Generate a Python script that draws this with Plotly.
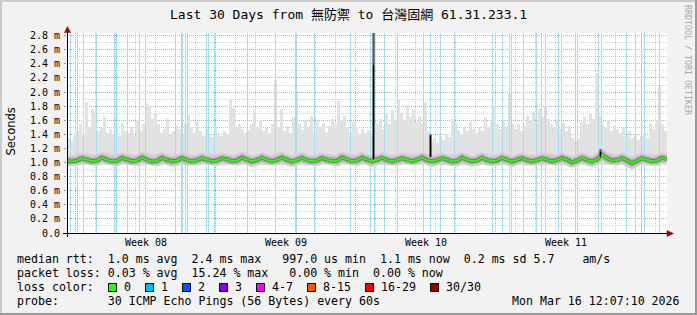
import numpy as np
import plotly.graph_objects as go

# ---------------- data ----------------
title_text = "Last 30 Days from 無防禦 to 台灣固網 61.31.233.1"
week_labels = ["Week 08", "Week 09", "Week 10", "Week 11"]
week_center_day = [3.935, 10.935, 17.935, 24.935]
week_grid_day = [0.435, 7.435, 14.435, 21.435, 28.435]
y_tick_vals = [0.0, 0.2, 0.4, 0.6, 0.8, 1.0, 1.2, 1.4, 1.6, 1.8, 2.0, 2.2, 2.4, 2.6, 2.8]
y_tick_text = ["0.0", "0.2 m", "0.4 m", "0.6 m", "0.8 m", "1.0 m", "1.2 m", "1.4 m",
               "1.6 m", "1.8 m", "2.0 m", "2.2 m", "2.4 m", "2.6 m", "2.8 m"]

# median rtt (ms), one value every 6 hours (0.25 day) over 30 days
median_step = 0.25
median_rtt = [
    1.020, 1.015, 1.030, 1.060,
    1.040, 1.020, 1.030, 1.068,
    1.040, 1.018, 1.025, 1.065,
    1.042, 1.020, 1.028, 1.070,
    1.040, 1.015, 1.022, 1.066,
    1.038, 1.020, 1.030, 1.064,
    1.035, 1.018, 1.032, 1.062,
    1.040, 1.020, 1.028, 1.060,
    1.045, 1.022, 1.030, 1.070,
    1.040, 1.018, 1.035, 1.066,
    1.040, 1.020, 1.040, 1.068,
    1.040, 1.015, 1.035, 1.065,
    1.035, 1.018, 1.030, 1.062,
    1.040, 1.020, 1.025, 1.070,
    1.045, 1.022, 1.030, 1.068,
    1.040, 1.020, 1.040, 1.066,
    1.038, 1.018, 1.035, 1.060,
    1.040, 1.020, 1.040, 1.070,
    1.035, 1.018, 1.035, 1.060,
    1.040, 1.015, 1.025, 1.068,
    1.040, 1.020, 1.030, 1.066,
    1.035, 1.018, 1.030, 1.065,
    1.040, 1.015, 1.040, 1.062,
    1.035, 1.018, 1.035, 1.060,
    1.040, 1.020, 1.035, 1.065,
    1.040, 1.005, 1.030, 1.062,
    1.035, 1.015, 1.045, 1.110,
    1.060, 1.030, 1.035, 1.062,
    1.030, 0.990, 1.025, 1.060,
    1.040, 1.020, 1.030, 1.065,
    1.050,
]

# smoke: slowest ping per 3.6 h step (ms)
smoke_step = 0.15
smoke_floor = 0.97
smoke_max = [
    1.35, 1.30, 1.42, 1.45, 1.55, 1.40, 1.86, 1.50, 1.76, 1.72,
    1.45, 1.50, 1.64, 1.42, 1.48, 1.40, 1.52, 1.38, 1.56, 1.45,
    1.42, 1.50, 1.38, 1.60, 1.45, 1.55, 1.84, 1.80, 1.62, 1.70,
    1.55, 1.42, 1.48, 1.62, 1.40, 1.45, 1.52, 1.48, 1.40, 1.55,
    1.68, 1.50, 1.42, 1.58, 1.45, 1.38, 1.47, 1.40, 1.36, 1.52,
    1.42, 1.38, 1.45, 1.40, 1.90, 1.78, 1.50, 1.55, 1.48, 1.42,
    1.46, 1.55, 1.75, 1.50, 1.60, 1.45, 1.50, 1.42, 1.55, 2.17,
    1.50, 1.76, 1.45, 1.52, 1.42, 1.65, 1.98, 1.55, 1.46, 1.60,
    1.50, 1.66, 1.45, 1.60, 1.50, 1.56, 1.44, 1.52, 1.62, 1.55,
    1.88, 1.60, 1.66, 1.50, 1.44, 1.58, 1.50, 1.40, 1.48, 1.42,
    1.46, 1.38, 1.50, 1.55, 1.62, 1.48, 1.70, 1.55, 1.75, 1.60,
    1.89, 1.70, 1.60, 1.82, 1.65, 1.74, 1.58, 1.66, 1.55, 1.86,
    1.45, 1.30, 1.35, 1.28, 1.38, 1.32, 1.40, 1.36, 1.62, 1.55,
    1.46, 1.40, 1.52, 1.45, 1.58, 1.48, 1.42, 1.50, 1.45, 1.64,
    1.50, 1.58, 1.80, 1.55, 1.48, 1.60, 1.52, 1.98, 1.56, 1.48,
    1.55, 1.45, 1.52, 1.66, 1.60, 1.72, 1.55, 1.76, 1.65, 1.80,
    1.62, 1.55, 1.50, 1.62, 1.48, 1.56, 1.45, 1.52, 1.35, 1.30,
    1.33, 1.58, 1.65, 1.55, 1.70, 1.62, 2.27, 1.66, 1.55, 1.50,
    1.60, 1.45, 1.52, 1.48, 1.42, 1.50, 1.38, 1.45, 1.35, 1.40,
    1.32, 1.38, 1.42, 1.35, 1.55, 1.48, 1.60, 2.10, 1.55, 1.45,
]

# loss events (day offset from graph start)
loss1_day = [0.175, 0.525, 0.825, 1.475, 2.375, 2.475, 3.025, 3.625, 3.925, 5.425,
             5.725, 5.775, 5.925, 6.025, 6.975, 7.075, 7.375, 9.025, 10.425, 11.425,
             11.475, 12.375, 14.175, 15.175, 15.375, 15.875, 16.525, 17.825, 18.175,
             18.675, 19.375, 21.275, 21.775, 22.125, 22.225, 22.825, 23.475, 23.725,
             23.925, 24.575, 24.725, 25.425, 25.525, 26.575, 26.725, 27.975, 28.425,
             28.875, 29.625]
loss4_day = [28.725]

# latency spikes
spike_day = [15.325, 18.175, 26.675]
spike_base = [1.05, 1.08, 1.08]
spike_max = [2.84, 1.40, 1.19]
spike_med = [2.38, 1.38, 1.15]

legend_line1 = "median rtt:  1.0 ms avg  2.4 ms max   997.0 us min  1.1 ms now  0.2 ms sd 5.7    am/s"
legend_line2 = "packet loss: 0.03 % avg  15.24 % max   0.00 % min  0.00 % now"
legend_line3 = "loss color:"
legend_line4 = "probe:       30 ICMP Echo Pings (56 Bytes) every 60s"
timestamp_text = "Mon Mar 16 12:07:10 2026"
loss_labels = ["0", "1", "2", "3", "4-7", "8-15", "16-29", "30/30"]
loss_colors = ["#26ff00", "#00b8ff", "#0059ff", "#7e00ff", "#ff00ff", "#ff5500", "#ff0000", "#a10000"]

# ---------------- layout helpers ----------------
W, H = 697, 315
L, R, T, B = 67, 30, 33, 82
PW, PH = W - L - R, H - T - B
YMAX = 2.838
MONO = "DejaVu Sans Mono, Noto Sans CJK TC, monospace"


def px(x):
    return (x - L) / PW


def py(y):
    return (T + PH - y) / PH


def nb(s):
    return s.replace(" ", "\u00a0")


fig = go.Figure()

# smoke
smoke_t = np.arange(len(smoke_max)) * smoke_step + smoke_step / 2
fig.add_trace(go.Bar(x=smoke_t, y=[v - smoke_floor for v in smoke_max], base=smoke_floor,
                     width=smoke_step, marker=dict(color="#e2e2e2", line=dict(width=0)),
                     hoverinfo="skip"))

# loss bars
def vlines(days, top):
    xs, ys = [], []
    for d in days:
        xs += [d, d, None]
        ys += [0, top, None]
    return xs, ys

lx, ly = vlines(loss1_day, YMAX)
fig.add_trace(go.Scatter(x=lx, y=ly, mode="lines", line=dict(color="#a3ddf5", width=1),
                         hoverinfo="skip"))
lx, ly = vlines(loss4_day, YMAX)
fig.add_trace(go.Scatter(x=lx, y=ly, mode="lines", line=dict(color="#eeaaee", width=1),
                         hoverinfo="skip"))

# smoke density around the median
median_t = np.arange(len(median_rtt)) * median_step
for w, c in [(11, "#d2d2d2"), (7, "#b0b0b0"), (3.6, "#6e6e6e")]:
    fig.add_trace(go.Scatter(x=median_t, y=median_rtt, mode="lines",
                             line=dict(color=c, width=w), hoverinfo="skip"))

# spikes
sx, sy = [], []
for d, b0, m in zip(spike_day, spike_base, spike_max):
    sx += [d, d, None]
    sy += [b0, m, None]
fig.add_trace(go.Scatter(x=sx, y=sy, mode="lines", line=dict(color="#555555", width=2.2),
                         hoverinfo="skip"))

# median line
fig.add_trace(go.Scatter(x=median_t, y=median_rtt, mode="lines",
                         line=dict(color="#26ff00", width=2), hoverinfo="skip"))

sx, sy = [], []
for d, b0, m in zip(spike_day, spike_base, spike_med):
    sx += [d, d, None]
    sy += [b0, m, None]
fig.add_trace(go.Scatter(x=sx, y=sy, mode="lines", line=dict(color="#000000", width=1.3),
                         hoverinfo="skip"))

shapes = []
# outer 3D border
shapes.append(dict(type="rect", xref="paper", yref="paper", x0=px(0), x1=px(W), y0=py(0), y1=py(2),
                   fillcolor="#cbcbcb", line=dict(width=0), layer="above"))
shapes.append(dict(type="rect", xref="paper", yref="paper", x0=px(0), x1=px(2), y0=py(0), y1=py(H),
                   fillcolor="#cbcbcb", line=dict(width=0), layer="above"))
shapes.append(dict(type="rect", xref="paper", yref="paper", x0=px(0), x1=px(W), y0=py(H - 2), y1=py(H),
                   fillcolor="#999999", line=dict(width=0), layer="above"))
shapes.append(dict(type="rect", xref="paper", yref="paper", x0=px(W - 2), x1=px(W), y0=py(0), y1=py(H),
                   fillcolor="#999999", line=dict(width=0), layer="above"))
# axes
shapes.append(dict(type="line", xref="paper", yref="paper", x0=px(63), x1=px(668), y0=py(233.5), y1=py(233.5),
                   line=dict(color="#000000", width=1), layer="above"))
shapes.append(dict(type="line", xref="paper", yref="paper", x0=px(67.5), x1=px(67.5), y0=py(31), y1=py(237),
                   line=dict(color="#000000", width=1), layer="above"))
# arrows
shapes.append(dict(type="path", xref="paper", yref="paper",
                   path=f"M {px(667)},{py(230.5)} L {px(673.5)},{py(233.5)} L {px(667)},{py(236.5)} Z",
                   fillcolor="#a00000", line=dict(color="#a00000", width=0.5), layer="above"))
shapes.append(dict(type="path", xref="paper", yref="paper",
                   path=f"M {px(64.5)},{py(32.5)} L {px(67.5)},{py(26.5)} L {px(70.5)},{py(32.5)} Z",
                   fillcolor="#a00000", line=dict(color="#a00000", width=0.5), layer="above"))

# loss colour boxes
box_x = [108.5, 145.5, 182.5, 219.5, 256.5, 307.5, 365.5, 430.5]
for bx, c in zip(box_x, loss_colors):
    shapes.append(dict(type="rect", xref="paper", yref="paper", x0=px(bx), x1=px(bx + 8),
                       y0=py(283.5), y1=py(291.5), fillcolor=c, line=dict(color="#000000", width=1),
                       layer="above"))

ann = []
ann.append(dict(text=title_text, x=px(348), y=py(15), xref="paper", yref="paper",
                xanchor="center", yanchor="middle", showarrow=False,
                font=dict(family=MONO, size=13, color="#000000")))
ann.append(dict(text="Seconds", x=px(10.5), y=py(132), xref="paper", yref="paper",
                xanchor="center", yanchor="middle", showarrow=False, textangle=-90,
                font=dict(family="DejaVu Sans", size=11.5, color="#000000")))
ann.append(dict(text=nb("RRDTOOL / TOBI OETIKER"), x=px(688), y=py(60), xref="paper", yref="paper",
                xanchor="center", yanchor="middle", showarrow=False, textangle=90,
                font=dict(family=MONO, size=8.3, color="#a8a8a8")))
for lab, d in zip(week_labels, week_center_day):
    ann.append(dict(text=nb(lab), x=d, y=py(242.5), xref="x", yref="paper",
                    xanchor="center", yanchor="middle", showarrow=False,
                    font=dict(family=MONO, size=10, color="#000000")))
for txt, yy in [(legend_line1, 259.3), (legend_line2, 273.3), (legend_line3, 287.3), (legend_line4, 301)]:
    ann.append(dict(text=nb(txt), x=px(15.5), y=py(yy), xref="paper", yref="paper",
                    xanchor="left", yanchor="middle", showarrow=False, borderpad=0,
                    font=dict(family=MONO, size=11.6, color="#000000")))
for bx, lab in zip(box_x, loss_labels):
    ann.append(dict(text=nb(lab), x=px(bx + 14), y=py(287.3), xref="paper", yref="paper",
                    xanchor="left", yanchor="middle", showarrow=False, borderpad=0,
                    font=dict(family=MONO, size=11.6, color="#000000")))
ann.append(dict(text=nb(timestamp_text), x=px(681), y=py(301), xref="paper", yref="paper",
                xanchor="right", yanchor="middle", showarrow=False, borderpad=0,
                font=dict(family=MONO, size=11.6, color="#000000")))

fig.update_layout(
    width=W, height=H,
    margin=dict(l=L, r=R, t=T, b=B, autoexpand=False),
    paper_bgcolor="#f2f2f2", plot_bgcolor="#ffffff",
    showlegend=False, shapes=shapes, annotations=ann,
    xaxis=dict(range=[0, 30], tickvals=week_grid_day, showticklabels=False, ticks="",
               showgrid=True, gridcolor="#e39a9a", griddash="1px,1px", gridwidth=1,
               zeroline=False, showline=False, fixedrange=True,
               minor=dict(tick0=0.435, dtick=1, showgrid=True, gridcolor="#cccccc",
                          griddash="1px,1px", gridwidth=1)),
    yaxis=dict(range=[0, YMAX], tickvals=y_tick_vals, ticktext=y_tick_text,
               ticks="outside", ticklen=2, tickcolor="#999999", ticklabelstandoff=2,
               showgrid=True, gridcolor="#e39a9a", griddash="1px,1px", gridwidth=1,
               zeroline=False, showline=False, fixedrange=True,
               tickfont=dict(family=MONO, size=10, color="#000000"),
               minor=dict(tick0=0, dtick=0.1, showgrid=True, gridcolor="#cccccc",
                          griddash="1px,1px", gridwidth=1)),
    bargap=0,
)

fig.write_html("out.html")
